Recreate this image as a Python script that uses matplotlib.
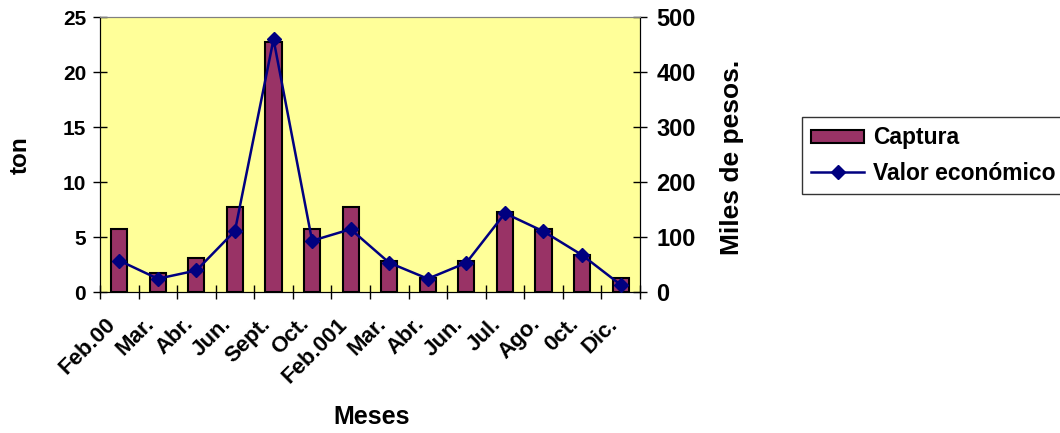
import matplotlib.pyplot as plt
import matplotlib.transforms as mtransforms
import numpy as np

# Datos
meses = ['Feb.00', 'Mar.', 'Abr.', 'Jun.', 'Sept.', 'Oct.', 'Feb.001',
         'Mar.', 'Abr.', 'Jun.', 'Jul.', 'Ago.', '0ct.', 'Dic.']
captura = [5.8, 1.8, 3.1, 7.8, 22.8, 5.8, 7.8, 2.9, 1.3, 2.9, 7.3, 5.8, 3.4, 1.3]
valor = [58, 25, 40, 112, 460, 94, 115, 54, 25, 54, 144, 111, 68, 14]

plt.rcParams['font.family'] = ['Liberation Sans', 'DejaVu Sans']
plt.rcParams['font.weight'] = 'bold'

fig = plt.figure(figsize=(10.6, 4.33), dpi=100)
ax = fig.add_axes([0.0943, 0.3245, 0.5094, 0.6355])
ax.set_facecolor('#FFFF99')

x = np.arange(len(meses))
barras = ax.bar(x, captura, width=0.42, color='#993366', edgecolor='black',
                linewidth=1.5, label='Captura', zorder=2)
ax.set_xlim(-0.5, len(meses) - 0.5)
ax.set_ylim(0, 25)
ax.set_yticks([0, 5, 10, 15, 20, 25])
ax.tick_params(axis='y', direction='inout', length=10, labelsize=15, width=1, pad=5)

# ticks entre categorias
ax.set_xticks(x)
ax.set_xticklabels(meses, rotation=45, ha='right', va='top',
                   rotation_mode='anchor', fontsize=16)
ax.tick_params(axis='x', which='major', length=0, pad=8)
ax.set_xticks(np.arange(-0.5, len(meses)), minor=True)
ax.tick_params(axis='x', which='minor', direction='inout', length=10, width=1)
offset = mtransforms.ScaledTranslation(-14 / 100, -10 / 100, fig.dpi_scale_trans)
for t in ax.get_xticklabels():
    t.set_transform(t.get_transform() + offset)

ax.spines['top'].set_color('#808080')
for s in ['left', 'bottom', 'right']:
    ax.spines[s].set_color('black')

ax2 = ax.twinx()
linea, = ax2.plot(x, valor, color='#000080', linewidth=1.8, marker='D',
                  markersize=7, label='Valor económico', zorder=3)
ax2.set_ylim(0, 500)
ax2.set_yticks([0, 100, 200, 300, 400, 500])
ax2.tick_params(axis='y', direction='inout', length=10, labelsize=17, width=1, pad=7)
ax2.spines['top'].set_color('#808080')

for t in ax.get_yticklabels() + ax2.get_yticklabels() + ax.get_xticklabels():
    t.set_fontweight('bold')

# titulos de ejes
fig.text(20 / 1060, 1 - 155 / 433, 'ton', rotation=90, ha='center', va='center',
         fontsize=17.5, fontweight='bold')
fig.text(732 / 1060, 1 - 157 / 433, 'Miles de pesos.', rotation=90, ha='center',
         va='center', fontsize=19, fontweight='bold')
fig.text(372 / 1060, 1 - 417 / 433, 'Meses', ha='center', va='center',
         fontsize=18, fontweight='bold')

leg = fig.legend([barras, linea], ['Captura', 'Valor económico'],
                 loc='upper left', bbox_to_anchor=(802 / 1060, 1 - 117 / 433),
                 fontsize=16.5, frameon=True, fancybox=False, edgecolor='black',
                 handlelength=2.3, handleheight=0.5, handletextpad=0.4,
                 borderpad=0.4, labelspacing=0.55, borderaxespad=0)
leg.get_frame().set_linewidth(1)
for t in leg.get_texts():
    t.set_fontweight('bold')

fig.savefig('out.png', dpi=100)
